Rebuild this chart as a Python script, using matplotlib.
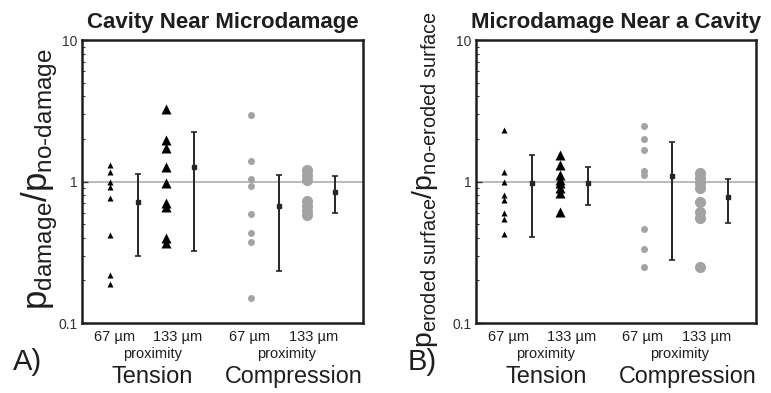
import matplotlib.pyplot as plt
from matplotlib.transforms import blended_transform_factory

plt.rcParams['font.family'] = ['Liberation Sans', 'DejaVu Sans']
plt.rcParams['mathtext.fontset'] = 'custom'
plt.rcParams['mathtext.rm'] = 'Liberation Sans'
plt.rcParams['mathtext.it'] = 'Liberation Sans'

TXT = '#1e1e1e'
GRAY = '#a3a3a3'

# ---- panel A: cavity near microdamage ----
a_ten67 = [1.32, 1.16, 0.99, 0.91, 0.77, 0.42, 0.22, 0.19]
a_ten133 = [3.27, 1.96, 1.72, 1.27, 0.98, 0.71, 0.66, 0.40, 0.37]
a_com67 = [2.97, 1.40, 1.04, 0.93, 0.59, 0.43, 0.375, 0.15]
a_com133 = [1.21, 1.11, 1.02, 0.73, 0.67, 0.62, 0.58]
# error bars: (center, low, high)
a_err = [(0.72, 0.30, 1.135), (1.27, 0.323, 2.23), (0.67, 0.232, 1.106), (0.84, 0.596, 1.09)]

# ---- panel B: microdamage near a cavity ----
b_ten67 = [2.32, 1.165, 0.99, 0.80, 0.74, 0.60, 0.545, 0.426]
b_ten133 = [1.545, 1.31, 1.115, 1.03, 0.975, 0.90, 0.83, 0.61]
b_com67 = [2.48, 2.0, 1.67, 1.185, 1.12, 0.463, 0.336, 0.25]
b_com133 = [1.15, 1.06, 0.98, 0.90, 0.72, 0.61, 0.553, 0.25]
b_err = [(0.98, 0.406, 1.55), (0.98, 0.684, 1.26), (1.10, 0.279, 1.91), (0.783, 0.508, 1.05)]

# x slots: points at 1,3,6,8 ; error bars at 2,4,7,9
pt_x = [1, 3, 6, 8]
err_x = [2, 4, 7, 9]

fig = plt.figure(figsize=(7.71, 3.93), dpi=100)
axA = fig.add_axes([0.1064, 0.178, 0.3645, 0.720])
axB = fig.add_axes([0.6174, 0.178, 0.3632, 0.720])


def draw_panel(ax, cols, errs, title, ylabel, ylab_size, tag):
    ax.set_yscale('log')
    ax.set_ylim(0.1, 10)
    ax.set_xlim(0, 10)
    ax.axhline(1, color='#b4b4b4', lw=1.3, zorder=1)

    styles = [
        dict(marker='^', ms=4.2, color='black'),
        dict(marker='^', ms=7.5, color='black'),
        dict(marker='o', ms=5.0, color=GRAY),
        dict(marker='o', ms=8.0, color=GRAY),
    ]
    for x, vals, st in zip(pt_x, cols, styles):
        ax.plot([x] * len(vals), vals, ls='none', mec='none', zorder=3, **st)

    for x, (c, lo, hi) in zip(err_x, errs):
        ax.errorbar([x], [c], yerr=[[c - lo], [hi - c]], fmt='s', ms=2.3,
                    color='#262626', ecolor='#262626', elinewidth=1.4,
                    capsize=2.5, capthick=1.2, zorder=4)

    for sp in ax.spines.values():
        sp.set_linewidth(1.8)
        sp.set_color('#1e1e1e')
    ax.set_xticks([])
    ax.set_yticks([0.1, 1, 10])
    ax.set_yticklabels(['0.1', '1', '10'])
    ax.tick_params(axis='y', which='both', direction='in', right=False,
                   labelsize=10, labelcolor='#333333', color='#333333')
    ax.tick_params(axis='y', which='major', length=4, width=1)
    ax.tick_params(axis='y', which='minor', length=2.5, width=0.8)
    ax.set_title(title, fontsize=16, fontweight='bold', color=TXT, pad=9)
    ax.set_ylabel(ylabel, fontsize=ylab_size, color=TXT)

    tr = blended_transform_factory(ax.transData, ax.transAxes)
    for x, s in [(1.15, '67 µm'), (3.4, '133 µm'), (5.95, '67 µm'), (8.25, '133 µm')]:
        ax.text(x, -0.05, s, transform=tr, ha='center', va='center', fontsize=10.5, color=TXT)
    for x in [2.5, 7.28]:
        ax.text(x, -0.108, 'proximity', transform=tr, ha='center', va='center',
                fontsize=10.5, color=TXT)
    ax.text(2.5, -0.19, 'Tension', transform=tr, ha='center', va='center',
            fontsize=17, color=TXT)
    ax.text(7.55, -0.19, 'Compression', transform=tr, ha='center', va='center',
            fontsize=16.8, color=TXT)
    ax.text(-0.245, -0.138, tag, transform=ax.transAxes, ha='left', va='center',
            fontsize=21, color=TXT)


draw_panel(axA, [a_ten67, a_ten133, a_com67, a_com133], a_err,
           'Cavity Near Microdamage',
           r'$\mathregular{p_{damage}/p_{no\text{-}damage}}$', 25, 'A)')
draw_panel(axB, [b_ten67, b_ten133, b_com67, b_com133], b_err,
           'Microdamage Near a Cavity',
           r'$\mathregular{p_{eroded\ surface}/p_{no\text{-}eroded\ surface}}$', 20.5, 'B)')

axA.yaxis.set_label_coords(-0.08, 0.51)
axB.yaxis.set_label_coords(-0.13, 0.507)

fig.savefig('out.png', dpi=100)
